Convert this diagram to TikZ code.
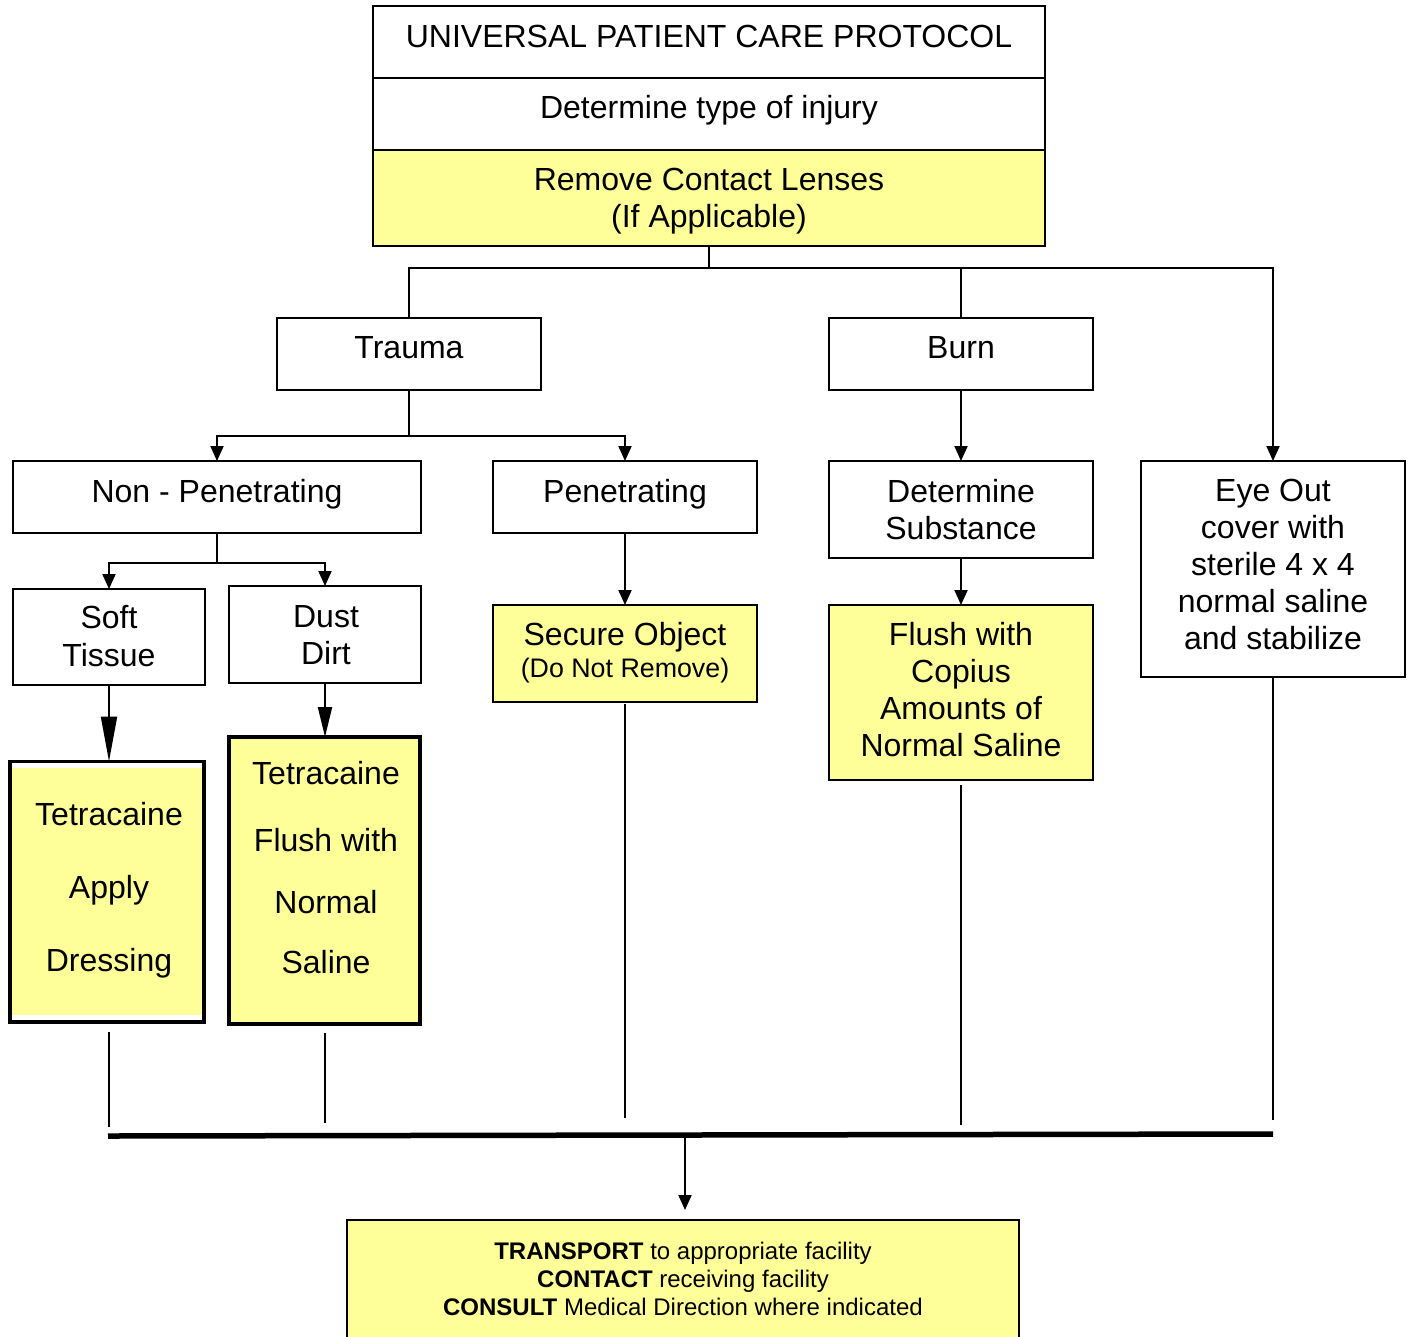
\documentclass[tikz,border=0pt]{standalone}
\usepackage{fontspec}
\setmainfont{Liberation Sans}
\usetikzlibrary{arrows.meta}
\definecolor{yel}{RGB}{255,255,153}
\begin{document}
\begin{tikzpicture}[x=1pt,y=-1pt,
  box/.style={draw, line width=2pt, fill=white, inner sep=0pt, outer sep=0pt, anchor=north west},
  ybox/.style={box, fill=yel},
  txt/.style={anchor=base, align=center, inner sep=0pt, font=\fontsize{32}{36.8}\selectfont},
  smalltxt/.style={anchor=base, align=center, inner sep=0pt, font=\fontsize{26.8}{30}\selectfont},
  foottxt/.style={anchor=base, align=center, inner sep=0pt, font=\fontsize{24}{27.8}\selectfont},
  conn/.style={line width=2pt},
  arr/.style={conn, -{Triangle[length=15pt,width=13pt]}},
  bigarr/.style={conn, -{Triangle[length=45pt,width=16pt]}},
  midarr/.style={conn, -{Triangle[length=30pt,width=14pt]}},
]
\useasboundingbox (0,0) rectangle (1412,1336);
\fill[white] (0,0) rectangle (1412,1336);
\clip (0,0) rectangle (1412,1336);

% ---------- boxes ----------
\node[box, minimum width=672pt, minimum height=72pt] (title) at (373,6) {};
\node[box, minimum width=672pt, minimum height=72pt] (det) at (373,78) {};
\node[ybox, minimum width=672pt, minimum height=96pt] (remove) at (373,150) {};
\node[box, minimum width=264pt, minimum height=72pt] (trauma) at (277,318) {};
\node[box, minimum width=264pt, minimum height=72pt] (burn) at (829,318) {};
\node[box, minimum width=408pt, minimum height=72pt] (nonpen) at (13,461) {};
\node[box, minimum width=264pt, minimum height=72pt] (pen) at (493,461) {};
\node[box, minimum width=264pt, minimum height=97pt] (detsub) at (829,461) {};
\node[box, minimum width=264pt, minimum height=216pt] (eye) at (1141,461) {};
\node[box, minimum width=192pt, minimum height=96pt] (soft) at (13,589) {};
\node[box, minimum width=192pt, minimum height=97pt] (dust) at (229,586) {};
\node[box, line width=3.5pt, minimum width=194pt, minimum height=260.5pt] (tetraA) at (10,761.5) {};
\fill[yel] ([xshift=1.8pt,yshift=-6pt]tetraA.north west) rectangle ([xshift=-1.8pt,yshift=7pt]tetraA.south east);
\node[ybox, line width=4.5pt, minimum width=191pt, minimum height=287pt] (tetraB) at (229,737) {};
\node[ybox, minimum width=264pt, minimum height=97pt] (secure) at (493,605) {};
\node[ybox, minimum width=264pt, minimum height=175pt] (flush) at (829,605) {};
\node[ybox, minimum width=672pt, minimum height=140pt] (final) at (347,1220) {};

% ---------- connectors ----------
\coordinate (j1) at (709,268);
\coordinate (j2) at (409,436);
\coordinate (j3) at (217,563);
\draw[conn] (remove.south) -- (j1);
\draw[conn] (trauma.north) |- (j1);
\draw[conn] (burn.north) |- (j1);
\draw[arr] (j1) -| (eye.north);

\draw[conn] (trauma.south) -- (j2);
\draw[arr] (j2) -| (nonpen.north);
\draw[arr] (j2) -| (pen.north);

\draw[conn] (nonpen.south) -- (j3);
\draw[arr] (j3) -| (soft.north);
\draw[arr] (j3) -| (dust.north);

\draw[bigarr] (soft.south) -- (soft.south |- tetraA.north);
\draw[midarr] (dust.south) -- (dust.south |- tetraB.north);
\draw[arr] (pen.south) -- (secure.north);
\draw[arr] (burn.south) -- (detsub.north);
\draw[arr] (detsub.south) -- (flush.north);

% bottom collector
\coordinate (busL) at (108,1136);
\coordinate (busR) at (1273,1134);
\coordinate (e1) at (109,1127);
\coordinate (e2) at (325,1123);
\coordinate (e3) at (625,1118);
\coordinate (e4) at (961,1125);
\coordinate (e5) at (1273,1120);
\coordinate (s1) at (e1 |- tetraA.south);
\coordinate (s2) at (e2 |- tetraB.south);
\coordinate (busM) at (685,1136);
\draw[line width=5.5pt] (busL) -- (busR);
\draw[conn] ([yshift=-10pt]s1) -- (e1);
\draw[conn] ([yshift=-9pt]s2) -- (e2);
\draw[conn] ([yshift=-2pt]secure.south) -- (e3);
\draw[conn] ([yshift=-5pt]flush.south) -- (e4);
\draw[conn] ([yshift=-1pt]eye.south) -- (e5);
\draw[arr, shorten >=10pt] (busM) -- (busM |- final.north);

% ---------- texts (anchor = baseline of last line) ----------
\node[txt] (t-title) at (709,47) {UNIVERSAL PATIENT CARE PROTOCOL};
\node[txt] (t-det) at (709,118) {Determine type of injury};
\node[txt] (t-remove) at (709,227) {Remove Contact Lenses\\(If Applicable)};
\node[txt] (t-trauma) at (409,358) {Trauma};
\node[txt] (t-burn) at (961,358) {Burn};
\node[txt] (t-nonpen) at (217,502) {Non - Penetrating};
\node[txt] (t-pen) at (625,502) {Penetrating};
\node[txt] (t-detsub) at (961,539) {Determine\\Substance};
\node[txt] (t-eye) at (1273,649) {Eye Out\\cover with\\sterile 4 x 4\\normal saline\\and stabilize};
\node[txt] (t-soft) at (109,666) {Soft\\[1.2pt]Tissue};
\node[txt] (t-dust) at (326,664) {Dust\\Dirt};
\node[txt] (t-tetraA) at (109,971) {Tetracaine\\[36.2pt]Apply\\[36.2pt]Dressing};
\node[txt] (t-tetraB) at (326,973) {Tetracaine\\[30.2pt]Flush with\\[25.2pt]Normal\\[23.2pt]Saline};
\node[txt] (t-secure) at (625,645) {Secure Object};
\node[smalltxt] (t-secure2) at (625,677) {(Do Not Remove)};
\node[txt] (t-flush) at (961,756) {Flush with\\Copius\\Amounts of\\Normal Saline};
\node[foottxt] (t-final) at (683,1315) {\textbf{TRANSPORT} to appropriate facility\\\textbf{CONTACT} receiving facility\\\textbf{CONSULT} Medical Direction where indicated};
\end{tikzpicture}
\end{document}
